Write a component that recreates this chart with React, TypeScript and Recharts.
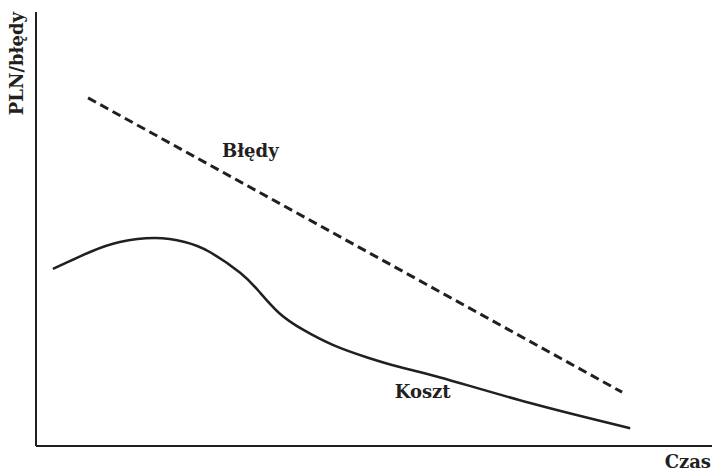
import { LineChart, Line, XAxis, YAxis, ReferenceDot, Label } from "recharts";

const bledyTime = [7.7, 86.7];
const bledyValue = [80.2, 12.4];

const kosztTime = [2.5, 8.0, 12.4, 17.6, 22.0, 25.7, 30.2, 33.0, 36.0, 39.5, 43.9, 49.0, 53.8, 59.8, 73.1, 87.9];
const kosztValue = [40.8, 44.7, 47.0, 47.9, 47.0, 44.7, 39.9, 35.6, 30.6, 26.8, 23.3, 20.4, 18.2, 15.8, 9.9, 4.1];

const labels = [
  { name: "Błędy", t: 31.7, v: 68.0 },
  { name: "Koszt", t: 57.2, v: 12.5 },
];

const bledy = bledyTime.map((t, i) => ({ t, v: bledyValue[i] }));
const koszt = kosztTime.map((t, i) => ({ t, v: kosztValue[i] }));

const font = "'DejaVu Serif', serif";
const ink = "#231f20";

export default function App() {
  return (
    <div style={{ position: "absolute", left: 0, top: 0, background: "#fff" }}>
      <LineChart width={715} height={472} margin={{ top: 12, right: 3, bottom: 0, left: 0 }}>
        <XAxis
          type="number"
          dataKey="t"
          domain={[0, 100]}
          height={26}
          tick={false}
          tickLine={false}
          axisLine={{ stroke: ink, strokeWidth: 2 }}
        >
          <Label
            content={({ viewBox }: any) => (
              <text
                x={viewBox.x + viewBox.width - 1}
                y={viewBox.y + 22}
                textAnchor="end"
                fontFamily={font}
                fontWeight="bold"
                fontSize={18}
                fill={ink}
              >
                Czas
              </text>
            )}
          />
        </XAxis>
        <YAxis
          type="number"
          dataKey="v"
          domain={[0, 100]}
          width={36}
          tick={false}
          tickLine={false}
          axisLine={{ stroke: ink, strokeWidth: 2 }}
        >
          <Label
            content={({ viewBox }: any) => (
              <text
                x={0}
                y={0}
                transform={`translate(${viewBox.x + 23}, ${viewBox.y}) rotate(-90)`}
                textAnchor="end"
                fontFamily={font}
                fontWeight="bold"
                fontSize={18}
                fill={ink}
              >
                PLN/błędy
              </text>
            )}
          />
        </YAxis>
        <Line
          data={bledy}
          dataKey="v"
          type="linear"
          stroke={ink}
          strokeWidth={3}
          strokeDasharray="9 5"
          dot={false}
          activeDot={false}
          isAnimationActive={false}
        />
        <Line
          data={koszt}
          dataKey="v"
          type="natural"
          stroke={ink}
          strokeWidth={2.5}
          dot={false}
          activeDot={false}
          isAnimationActive={false}
        />
        {labels.map((l) => (
          <ReferenceDot key={l.name} x={l.t} y={l.v} r={0} stroke="none" fill="none">
            <Label
              value={l.name}
              position="center"
              fontFamily={font}
              fontWeight="bold"
              fontSize={18}
              fill={ink}
            />
          </ReferenceDot>
        ))}
      </LineChart>
    </div>
  );
}
